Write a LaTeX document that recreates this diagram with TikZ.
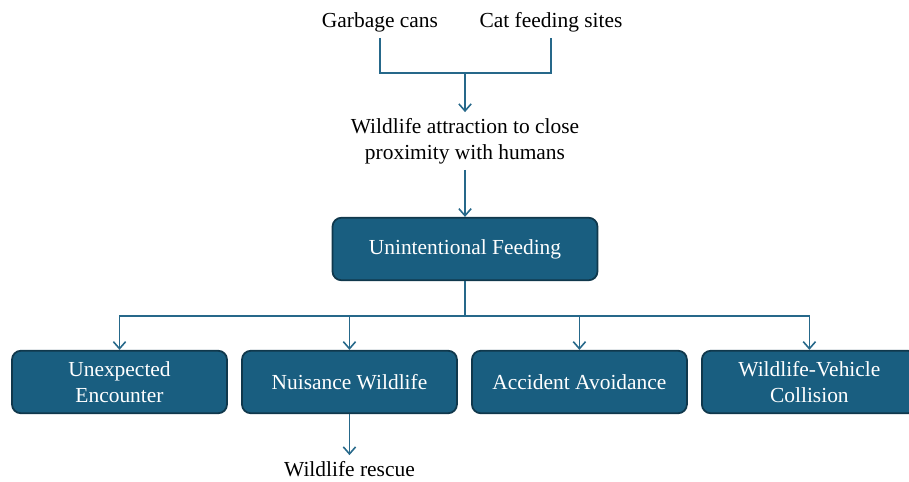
\documentclass[tikz,border=0pt]{standalone}
\usepackage{fontspec}
\setmainfont{Liberation Serif}
\usetikzlibrary{arrows.meta,positioning}

\definecolor{boxfill}{RGB}{25,94,128}
\definecolor{boxline}{RGB}{16,56,76}
\definecolor{arrowcol}{RGB}{38,104,138}

\tikzset{
  effect/.style={draw=boxline,line width=1pt,fill=boxfill,rounded corners=5pt,
    text=white,minimum width=4.3cm,minimum height=1.25cm,align=center,
    font=\fontsize{12.2}{14.6}\selectfont},
  plain/.style={align=center,font=\fontsize{12.2}{14.6}\selectfont},
  link/.style={draw=arrowcol,line width=0.9pt},
  flow/.style={link,-{Straight Barb[length=4pt,width=7pt]}}
}

\begin{document}
\begin{tikzpicture}[x=0.02cm,y=-0.02cm,node distance=0.265cm]
  \clip (0,0) rectangle (909,481);
  \node[plain] (garbage) at (380,22)  {Garbage cans};
  \node[plain] (catsite) at (551,22)  {Cat feeding sites};
  \node[plain] (attract) at (465,141) {Wildlife attraction to close\\proximity with humans};
  \node[effect,minimum width=5.3cm] (feed) at (465,249) {Unintentional Feeding};
  \node[effect] (encounter) at (119.5,382) {Unexpected\\Encounter};
  \node[effect] (nuisance)  [right=of encounter] {Nuisance Wildlife};
  \node[effect] (avoid)     [right=of nuisance]  {Accident Avoidance};
  \node[effect] (collide)   [right=of avoid]     {Wildlife-Vehicle\\Collision};
  \node[plain] (rescue) [below=0.82cm of nuisance] {Wildlife rescue};

  \coordinate (join) at (465,73);
  \coordinate (split) at (465,316);
  \draw[link] (garbage.south) |- (join) -| (catsite.south);
  \draw[flow] (join) -- (attract.north);
  \draw[flow] (attract.south) -- (feed.north);
  \draw[link] (feed.south) -- (split);
  \foreach \n in {encounter,nuisance,avoid,collide}
    \draw[flow] (split) -| (\n.north);
  \draw[flow] (nuisance.south) -- (rescue.north);
\end{tikzpicture}
\end{document}
